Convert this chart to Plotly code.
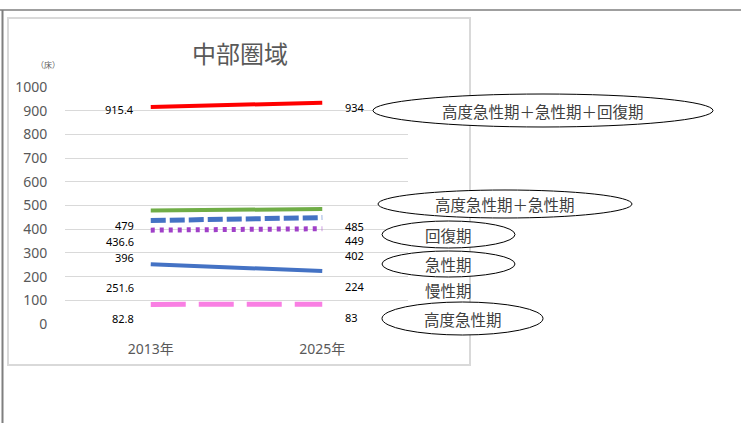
import plotly.graph_objects as go

categories = ["2013年", "2025年"]
series_names = ["高度急性期＋急性期＋回復期", "高度急性期＋急性期", "回復期", "急性期", "慢性期", "高度急性期"]
total_vals = [915.4, 934]
hac_vals = [479, 485]
recovery_vals = [436.6, 449]
recovery2_vals = [396, 402]
acute_vals = [251.6, 224]
high_acute_vals = [82.8, 83]
y_ticks = [0, 100, 200, 300, 400, 500, 600, 700, 800, 900, 1000]

W, H = 741, 423
ML, MR, MT, MB = 65, 333, 87, 99
PW = W - ML - MR
PH = H - MT - MB

def px(x):
    return (x - ML) / PW

def py(y):
    return (H - MB - y) / PH

FONT = "Noto Sans, Noto Sans CJK JP"
JP = "Noto Sans CJK JP"

fig = go.Figure()

line_specs = [
    (total_vals, "#FF0000", 4, "solid", (-2, -5)),
    (hac_vals, "#70AD47", 4, "solid", (-15, -17)),
    (recovery_vals, "#4472C4", 5, "15px,4px", (-21, -23)),
    (recovery2_vals, "#A040C8", 5, "4px,5px", (-27, -27)),
    (acute_vals, "#4472C4", 4, "solid", (-23, -16)),
    (high_acute_vals, "#F97FE3", 5, "35px,13px", (-14, -13)),
]

annotations = []
for vals, color, width, dash, shifts in line_specs:
    fig.add_trace(go.Scatter(
        x=categories, y=vals, mode="lines",
        line=dict(color=color, width=width, dash=dash),
        showlegend=False, hoverinfo="skip"))
    annotations.append(dict(x=categories[0], y=vals[0], xref="x", yref="y",
                            text=f"{vals[0]:g}", showarrow=False, xanchor="right",
                            xshift=-15, yshift=shifts[0],
                            font=dict(family=FONT, size=11, color="#000000")))
    annotations.append(dict(x=categories[1], y=vals[1], xref="x", yref="y",
                            text=f"{vals[1]:g}", showarrow=False, xanchor="left",
                            xshift=21, yshift=shifts[1],
                            font=dict(family=FONT, size=11, color="#000000")))

shapes = []
# outer frame
shapes.append(dict(type="line", xref="paper", yref="paper", x0=px(0), x1=px(741), y0=py(10), y1=py(10),
                   line=dict(color="#7F7F7F", width=1.5), layer="below"))
shapes.append(dict(type="line", xref="paper", yref="paper", x0=px(2.5), x1=px(2.5), y0=py(10), y1=py(423),
                   line=dict(color="#7F7F7F", width=2), layer="below"))
# inner chart box
shapes.append(dict(type="rect", xref="paper", yref="paper", x0=px(8), x1=px(470), y0=py(18), y1=py(365),
                   line=dict(color="#D9D9D9", width=2), layer="below"))

# callout ellipses (label boxes) : (x0, y0, x1, y1, text)
callouts = [
    (373, 94, 713, 127, series_names[0]),
    (378, 190, 632, 218, series_names[1]),
    (382, 221, 515, 248, series_names[2]),
    (382, 251, 515, 277, series_names[3]),
    (None, 279, None, 301, series_names[4]),
    (382, 302, 543, 335, series_names[5]),
]
for x0, y0, x1, y1, text in callouts:
    if x0 is not None:
        shapes.append(dict(type="circle", xref="paper", yref="paper",
                           x0=px(x0), x1=px(x1), y0=py(y1), y1=py(y0),
                           line=dict(color="#000000", width=1), fillcolor="#FFFFFF", layer="above"))
        cx = (x0 + x1) / 2
    else:
        cx = 448
    annotations.append(dict(x=px(cx), y=py((y0 + y1) / 2), xref="paper", yref="paper",
                            text=text, showarrow=False, xanchor="center", yanchor="middle",
                            font=dict(family=JP, size=15.5, color="#404040")))

# title and unit
annotations.append(dict(x=px(240), y=py(53), xref="paper", yref="paper", text="中部圏域",
                        showarrow=False, xanchor="center", yanchor="middle",
                        font=dict(family=JP, size=24, color="#595959")))
annotations.append(dict(x=px(48), y=py(64), xref="paper", yref="paper", text="（床）",
                        showarrow=False, xanchor="center", yanchor="middle",
                        font=dict(family=JP, size=8, color="#595959")))

fig.update_layout(
    width=W, height=H,
    margin=dict(l=ML, r=MR, t=MT, b=MB, pad=0),
    paper_bgcolor="#FFFFFF", plot_bgcolor="#FFFFFF",
    shapes=shapes, annotations=annotations,
    showlegend=False,
)
fig.update_xaxes(type="category", categoryorder="array", categoryarray=categories,
                 range=[-0.5, 1.5], showgrid=False, zeroline=False, showline=False,
                 ticks="outside", ticklen=12, tickcolor="rgba(0,0,0,0)",
                 tickfont=dict(family=FONT, size=14, color="#595959"))
fig.update_yaxes(range=[0, 1000], tickvals=y_ticks, showgrid=True, gridcolor="#D9D9D9", gridwidth=1,
                 zeroline=False, showline=False, ticks="outside", ticklen=14, tickcolor="rgba(0,0,0,0)",
                 tickfont=dict(family=FONT, size=14, color="#595959"))

fig.write_html("out.html", config={"displayModeBar": False},
               post_script="document.body.style.margin='0';document.body.style.overflow='hidden';")
